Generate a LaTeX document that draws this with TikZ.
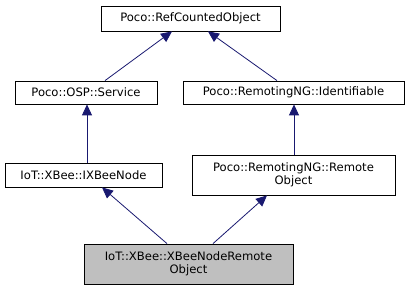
\documentclass[tikz,border=0pt]{standalone}
\usepackage{fontspec}
\setmainfont{DejaVu Sans}
\usetikzlibrary{arrows.meta}
\definecolor{edgeblue}{HTML}{191970}
\definecolor{curfill}{HTML}{BFBFBF}
\tikzset{
  cls/.style={draw=black, line width=0.8pt, fill=white, inner sep=0pt, align=center,
    font=\fontsize{11.6}{13.2}\selectfont},
  inh/.style={draw=edgeblue, line width=0.8pt,
    -{Triangle[length=11pt,width=10pt,fill=edgeblue]}},
}
\begin{document}
\begin{tikzpicture}[x=1pt,y=-1pt]
  \useasboundingbox (0,0) rectangle (412,291);
  \node[cls, minimum width=179pt, minimum height=25pt] (rco) at (190.5,18.5) {Poco::RefCountedObject};
  \node[cls, minimum width=142pt, minimum height=23pt] (svc) at (86,92.5) {Poco::OSP::Service};
  \node[cls, minimum width=221pt, minimum height=23pt] (ident) at (293.5,92.5) {Poco::RemotingNG::Identifiable};
  \node[cls, minimum width=157pt, minimum height=24pt] (ixb) at (83.5,175) {IoT::XBee::IXBeeNode};
  \node[cls, minimum width=203pt, minimum height=40pt] (robj) at (293.5,175) {Poco::RemotingNG::Remote\\Object};
  \node[cls, fill=curfill, minimum width=209pt, minimum height=40pt] (xbn) at (188.5,264) {IoT::XBee::XBeeNodeRemote\\Object};

  \draw[inh] ([xshift=19pt]svc.north) -- ([xshift=-18.5pt]rco.south);
  \draw[inh] ([xshift=-16.5pt]ident.north) -- ([xshift=17.5pt]rco.south);
  \draw[inh] (ixb.north -| 87,0) -- (svc.south -| 87,0);
  \draw[inh] (robj.north -| 294,0) -- (ident.south -| 294,0);
  \draw[inh] ([xshift=-21.5pt]xbn.north) -- ([xshift=18.5pt]ixb.south);
  \draw[inh] ([xshift=24.5pt]xbn.north) -- ([xshift=-26.5pt]robj.south);
\end{tikzpicture}
\end{document}
